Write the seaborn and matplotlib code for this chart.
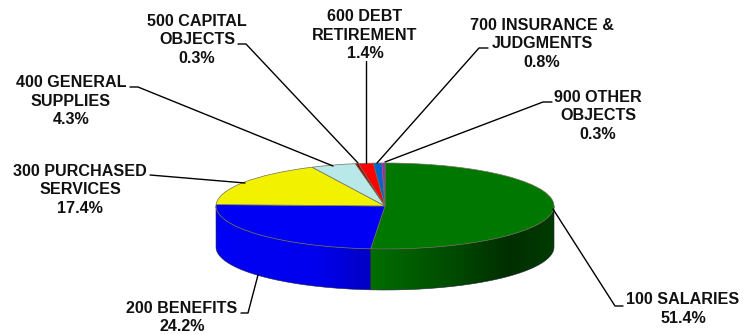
import numpy as np
import matplotlib
matplotlib.use("Agg")
import matplotlib.pyplot as plt
from matplotlib.lines import Line2D
from matplotlib.path import Path
from matplotlib.patches import PathPatch
from matplotlib.colors import LinearSegmentedColormap
from matplotlib.transforms import Affine2D
import seaborn as sns

categories = ["100 SALARIES", "200 BENEFITS", "300 PURCHASED\nSERVICES", "400 GENERAL\nSUPPLIES",
              "500 CAPITAL\nOBJECTS", "600 DEBT\nRETIREMENT", "700 INSURANCE &\nJUDGMENTS", "900 OTHER\nOBJECTS"]
shares = [51.4, 24.2, 17.4, 4.3, 0.3, 1.4, 0.8, 0.3]
slice_colors = ["#007800", "#0000F5", "#F2F200", "#B8E8E8", "#A00000", "#FF0000", "#0066CC", "#B020C0"]

sns.set_theme(style="white")
plt.rcParams["font.family"] = ["Liberation Sans", "DejaVu Sans"]

W, H = 748, 334
CX, CY, RX, RY, DEPTH = 385, 206, 169, 43, 41

fig = plt.figure(figsize=(W / 100, H / 100), dpi=100)
ax = fig.add_axes([0, 0, 1, 1])
palette = sns.color_palette(slice_colors)

# Top face of the disc: a pie squashed by non-equal axis scaling
ax.pie(shares, colors=palette, startangle=90, counterclock=False, radius=1,
       wedgeprops=dict(edgecolor="#70705c", linewidth=0.5, zorder=3))
ax.set_aspect("auto")

# Front wall of the disc, one shaded band per slice facing the viewer
bounds = np.r_[0, np.cumsum(shares)] / np.sum(shares) * 2 * np.pi
wall_shades = {
    0: [(0.0, "#006e00"), (0.45, "#004a00"), (0.75, "#002e00"), (1.0, "#003c00")],
    1: [(0.0, "#0000f5"), (0.65, "#0000ee"), (1.0, "#0000c4")],
}
wall_depth = DEPTH / RY
for i, shade in wall_shades.items():
    a = max(bounds[i], np.pi / 2)
    b = min(bounds[i + 1], 3 * np.pi / 2)
    t = np.linspace(a, b, 120)
    x, y = np.sin(t), np.cos(t)
    verts = np.r_[np.c_[x, y], np.c_[x[::-1], y[::-1] - wall_depth], [[x[0], y[0]]]]
    clip = PathPatch(Path(verts), transform=ax.transData, facecolor="none", edgecolor="none")
    ax.add_patch(clip)
    cmap = LinearSegmentedColormap.from_list(f"wall{i}", shade)
    x0, x1 = sorted((x[0], x[-1]))
    grad = np.linspace(0, 1, 256)[None, :]
    im = ax.imshow(grad, cmap=cmap, aspect="auto", extent=(x0, x1, -2.5, 0.5), zorder=1)
    im.set_clip_path(clip)
    ax.plot(verts[:, 0], verts[:, 1], color="#202040", lw=0.4, zorder=2)

ax.set_xlim((0 - CX) / RX, (W - CX) / RX)
ax.set_ylim((CY - H) / RY, CY / RY)
ax.axis("off")

# Labels and their leader lines, placed in pixel coordinates
to_px = Affine2D().scale(1 / W, -1 / H).translate(0, 1) + fig.transFigure
label_centres = [(683, 309), (182, 317.5), (80, 190), (71, 101), (197, 40), (365, 35), (542, 44), (598, 116)]
leaders = [
    [(553, 209), (615, 306), (623, 306)],
    [(258, 275), (248, 313), (241, 313)],
    [(150, 175), (245, 183)],
    [(130, 87), (138, 87), (333, 166)],
    [(238, 44), (246, 44), (358, 163)],
    [(366, 61), (366, 163)],
    [(488, 48), (479, 48), (377, 163)],
    [(552, 102), (543, 102), (385, 162)],
]
for name, value, (lx, ly), pts in zip(categories, shares, label_centres, leaders):
    fig.text(lx, ly, f"{name}\n{value:.1f}%", transform=to_px, ha="center", va="center",
             fontsize=11.6, fontweight="bold", color="#111111", linespacing=1.27)
    px, py = zip(*pts)
    fig.add_artist(Line2D(px, py, transform=to_px, color="black", lw=1.0))

fig.savefig("out.png", dpi=100, facecolor="white")
